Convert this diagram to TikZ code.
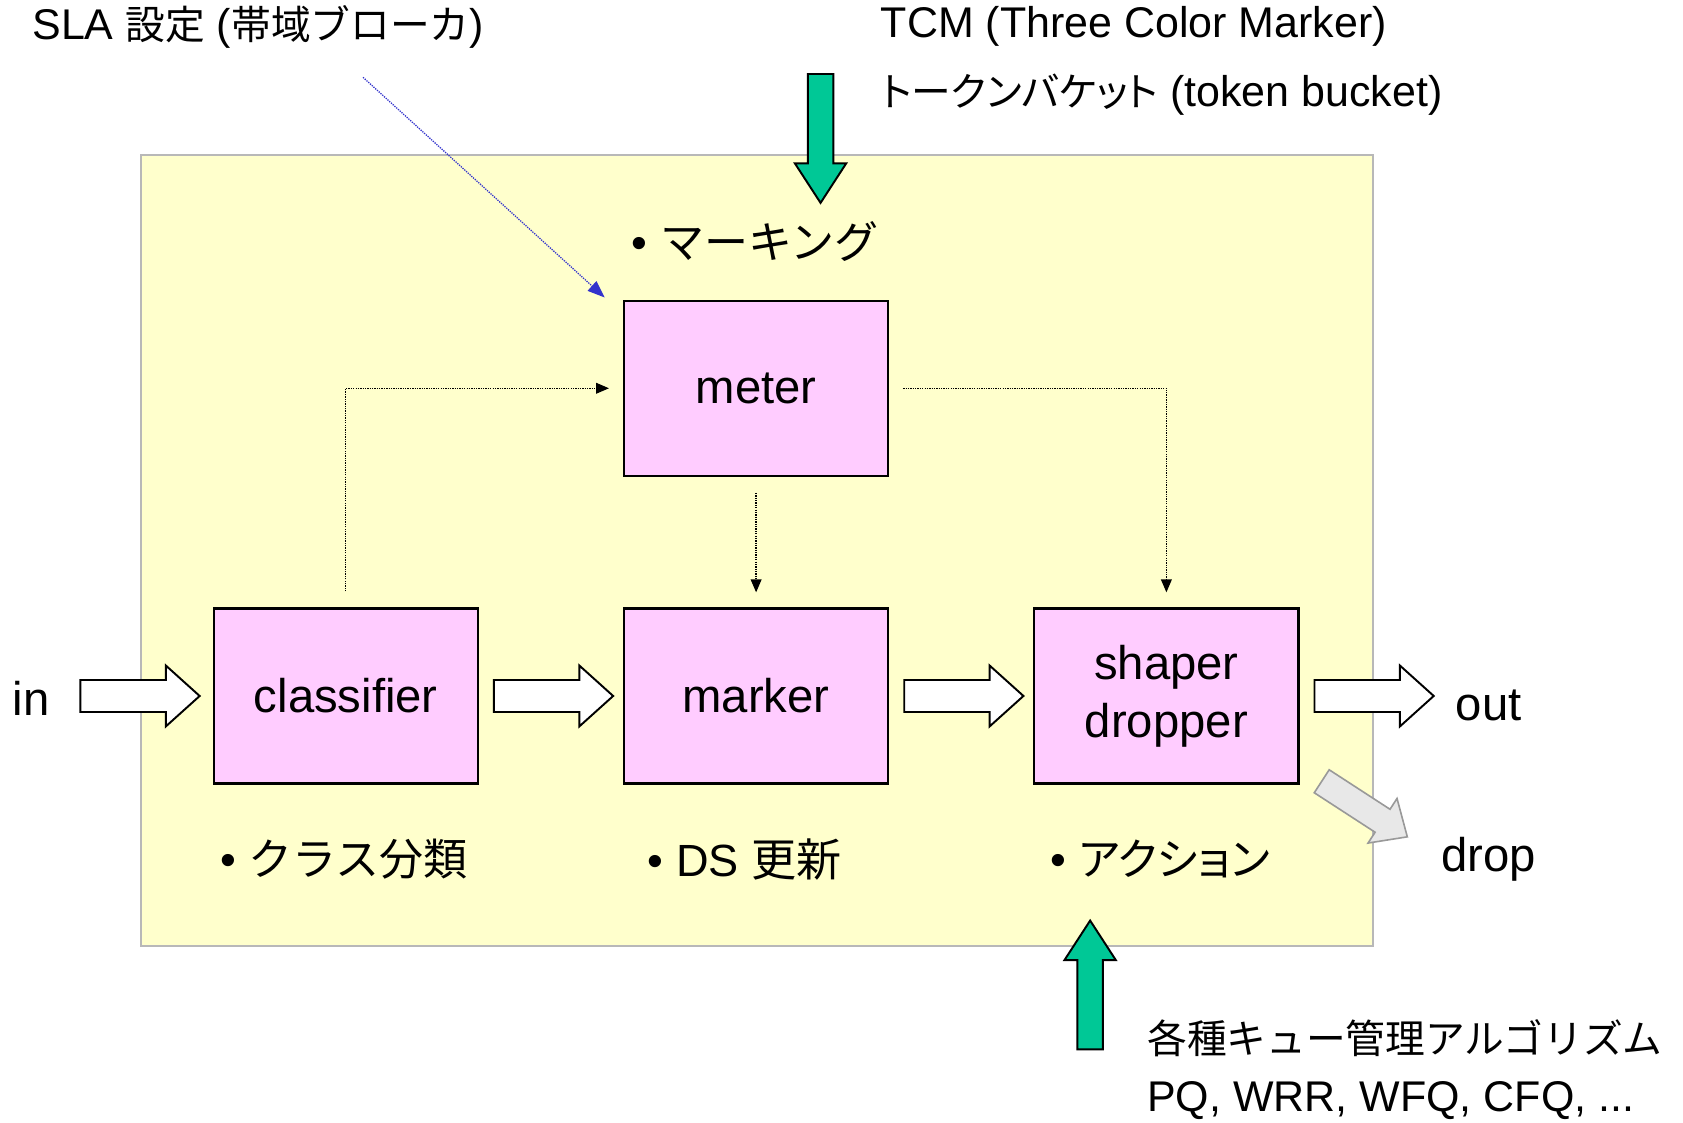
\documentclass[tikz,border=0pt]{standalone}
\usepackage{fontspec}
\setmainfont{Liberation Sans}
\newfontfamily\jp{Noto Sans CJK JP}
\newfontfamily\jpp[RawFeature=+palt]{Noto Sans CJK JP}
\usetikzlibrary{shapes.arrows,arrows.meta,calc}
\newcommand\myfs[1]{\fontsize{#1}{#1}\selectfont}
\definecolor{bgyellow}{HTML}{FFFFCC}
\definecolor{boxpink}{HTML}{FFCCFF}
\definecolor{tealgreen}{HTML}{00C896}
\definecolor{slablue}{HTML}{3333CC}
\begin{document}
\begin{tikzpicture}[x=1pt,y=-1pt,
  block/.style={draw=black, line width=2pt, fill=boxpink, minimum width=246pt, minimum height=163pt,
    align=center, font=\fontsize{44}{54}\selectfont, inner sep=0pt},
  hollow/.style={single arrow, draw=black, line width=1.8pt, fill=white, minimum height=111pt,
    minimum width=55pt, inner sep=14pt, single arrow head extend=13.5pt, single arrow tip angle=84, anchor=tail},
  greenarrow/.style={single arrow, draw=black, line width=1.8pt, fill=tealgreen, minimum height=120pt,
    minimum width=46pt, inner sep=11pt, single arrow head extend=12pt, single arrow tip angle=66, anchor=tail},
  droparrow/.style={single arrow, draw=black!40, line width=1.5pt, fill=black!9, minimum height=95pt,
    minimum width=48pt, inner sep=12pt, single arrow head extend=12pt, single arrow tip angle=84, anchor=tail},
  dotconn/.style={densely dotted, line width=1.2pt, -{Triangle[length=12pt,width=10pt]}},
  annot/.style={anchor=west, inner sep=0pt, font=\myfs{40}},
  bullet/.style={anchor=west, inner sep=0pt, font=\myfs{42}},
  lbl/.style={inner sep=0pt, font=\myfs{44}}
]
\useasboundingbox (0,0) rectangle (1567,1045);

% background panel
\node[draw=black!28, line width=2pt, fill=bgyellow, minimum width=1147pt, minimum height=737pt,
  anchor=north west, inner sep=0pt] (bg) at (130,143) {};

% blocks
\node[block] (meter) at (704,361.5) {meter};
\node[block] (classifier) at (322,648) {classifier};
\node[block] (marker) at (704,648) {marker};
\node[block] (shaper) at (1086,648) {shaper\\dropper};

% hollow arrows
\node[hollow] (ain) at ([xshift=-124pt]classifier.west) {};
\node[hollow] (a1) at ([xshift=13pt]classifier.east) {};
\node[hollow] (a2) at ([xshift=13pt]marker.east) {};
\node[hollow] (aout) at ([xshift=13pt]shaper.east) {};
\node[droparrow, rotate=-33] (adrop) at (1230,727) {};

% labels
\node[lbl] (in) at (29,650) {in};
\node[lbl] (out) at (1386,657) {out};
\node[lbl] (drop) at (1386,800) {drop};

% dotted connectors
\draw[dotconn, shorten <=15pt, shorten >=13pt] (classifier.north) |- (meter.west);
\draw[dotconn, shorten <=13pt, shorten >=14pt] (meter.east) -| (shaper.north);
\draw[dotconn, shorten <=15pt, shorten >=14pt] (meter.south) -- (marker.north);

% bullet labels
\node[bullet] (bmark) at (588,225) {• {\jp\myfs{41}マーキング}};
\node[bullet] (bclass) at (205,800) {• {\jp\myfs{41}クラス分類}};
\node[bullet] (bds) at (603,800) {• DS {\jp\myfs{42}更新}};
\node[bullet] (bact) at (978,800) {• {\jpp\myfs{41}アクション}};

% annotations
\node[annot] (sla) at (30,25) {SLA {\jp\myfs{37}設定} ({\jp\myfs{37}帯域ブローカ})};
\node[annot] (tcm) at (820,25) {TCM (Three Color Marker)};
\node[annot] (tb) at (820,88) {{\jpp\myfs{37}トークンバケット} (token bucket)};
\node[annot] (queue) at (1068,967) {\jp\myfs{37}各種キュー管理アルゴリズム};
\node[annot] (algs) at (1068,1025) {PQ, WRR, WFQ, CFQ, ...};

% green arrows
\node[greenarrow, rotate=-90] (gtop) at (764,68) {};
\node[greenarrow, rotate=90] (gbot) at (1015,978) {};

% SLA pointer
\coordinate (slastart) at (338,72);
\draw[densely dotted, line width=1.2pt, slablue, -{Triangle[length=16pt,width=12pt]}]
  (slastart) -- ([xshift=-17pt,yshift=2pt]meter.north west);
\end{tikzpicture}
\end{document}
